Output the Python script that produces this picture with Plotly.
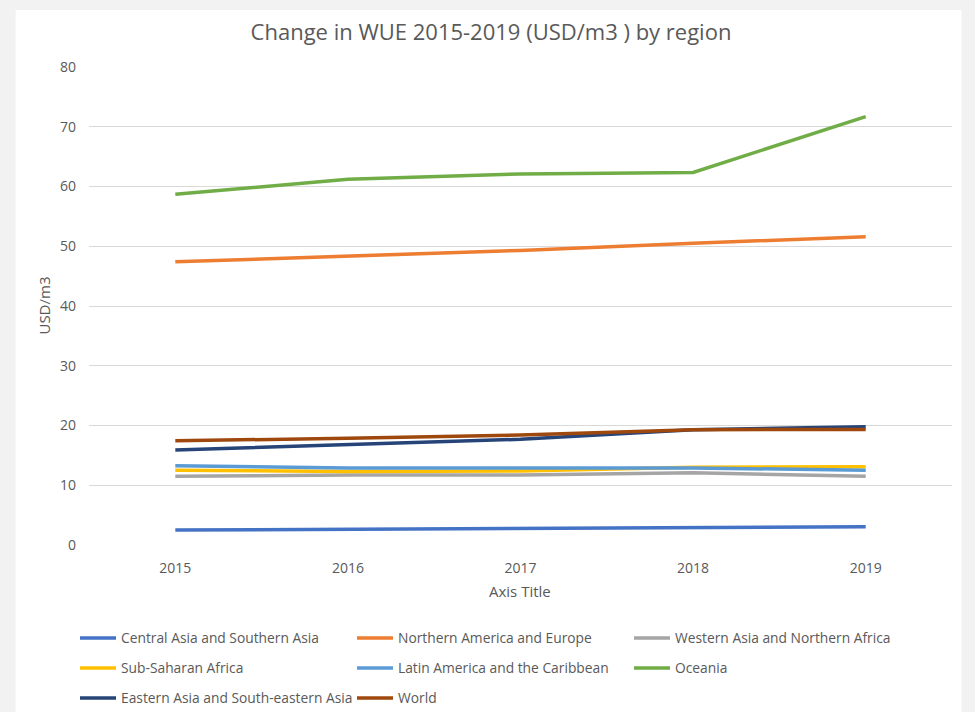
import plotly.graph_objects as go

# Water use efficiency (USD/m3) by region, 2015-2019
years = ["2015", "2016", "2017", "2018", "2019"]

central_southern_asia = [2.5, 2.65, 2.85, 3.0, 3.05]
northern_america_europe = [47.4, 48.3, 49.3, 50.5, 51.6]
western_asia_n_africa = [11.5, 11.7, 11.7, 12.1, 11.5]
sub_saharan_africa = [12.5, 12.3, 12.4, 13.0, 13.1]
latin_america_caribbean = [13.25, 12.9, 12.9, 12.9, 12.5]
oceania = [58.7, 61.2, 62.1, 62.35, 71.7]
eastern_se_asia = [15.9, 16.75, 17.7, 19.3, 19.8]
world = [17.45, 17.85, 18.4, 19.3, 19.35]

y_ticks = [0, 10, 20, 30, 40, 50, 60, 70, 80]

series = [
    ("Central Asia and Southern Asia", central_southern_asia, "#4472C4", "legend"),
    ("Northern America and Europe", northern_america_europe, "#ED7D31", "legend"),
    ("Western Asia and Northern Africa", western_asia_n_africa, "#A5A5A5", "legend"),
    ("Sub-Saharan Africa", sub_saharan_africa, "#FFC000", "legend2"),
    ("Latin America and the Caribbean", latin_america_caribbean, "#5B9BD5", "legend2"),
    ("Oceania", oceania, "#70AD47", "legend2"),
    ("Eastern Asia and South-eastern Asia", eastern_se_asia, "#264478", "legend3"),
    ("World", world, "#9E480E", "legend3"),
]

FONT = "Open Sans"
TXT = "#595959"

fig = go.Figure()
for name, vals, color, leg in series:
    fig.add_trace(go.Scatter(
        x=years, y=vals, name=name, mode="lines",
        line=dict(color=color, width=3.5),
        legend=leg,
    ))

# plot area geometry (pixels)
W, H = 975, 712
L, R, T, B = 88.5, 22.5, 67, 167
pw, ph = W - L - R, H - T - B


def px(x):
    return (x - L) / pw


def py(y):
    return (H - B - y) / ph


def legend_row(y_pix):
    return dict(
        orientation="h", xref="container", yref="container",
        x=75 / W, xanchor="left", y=1 - y_pix / H, yanchor="middle",
        entrywidth=226, entrywidthmode="pixels", itemwidth=36,
        bgcolor="rgba(0,0,0,0)",
        font=dict(family=FONT, size=13.8, color=TXT), traceorder="normal",
    )


fig.update_layout(
    width=W, height=H,
    margin=dict(l=L, r=R, t=T, b=B, pad=0, autoexpand=False),
    paper_bgcolor="#f2f2f2",
    plot_bgcolor="white",
    font=dict(family=FONT, color=TXT),
    title=dict(
        text="Change in WUE 2015-2019 (USD/m3 ) by region",
        x=491 / W, xanchor="center", y=1 - 32 / H, yanchor="middle",
        yref="container", xref="container",
        font=dict(family=FONT, size=22, color=TXT),
    ),
    xaxis=dict(
        type="category", range=[-0.5, 4.5], showgrid=False, zeroline=False,
        showline=False, ticks="", ticklabelstandoff=13,
        tickfont=dict(family=FONT, size=14, color=TXT),
    ),
    yaxis=dict(
        range=[0, 80], tickvals=y_ticks, gridcolor="#d9d9d9", gridwidth=1,
        zeroline=False, showline=False, ticks="", ticklabelstandoff=12,
        tickfont=dict(family=FONT, size=14, color=TXT),
    ),
    legend=legend_row(638),
    legend2=legend_row(668),
    legend3=legend_row(698),
    shapes=[dict(
        type="rect", xref="paper", yref="paper", layer="below",
        x0=px(15), x1=px(962), y0=py(H + 20), y1=py(10),
        fillcolor="white", line=dict(width=0),
    )],
    annotations=[
        dict(text="Axis Title", xref="paper", yref="paper", x=px(520), y=py(591),
             xanchor="center", yanchor="middle", showarrow=False,
             font=dict(family=FONT, size=15, color=TXT)),
        dict(text="USD/m3", xref="paper", yref="paper", x=px(43), y=py(306),
             xanchor="center", yanchor="middle", textangle=-90, showarrow=False,
             font=dict(family=FONT, size=15, color=TXT)),
    ],
)

fig.write_html("out.html")
